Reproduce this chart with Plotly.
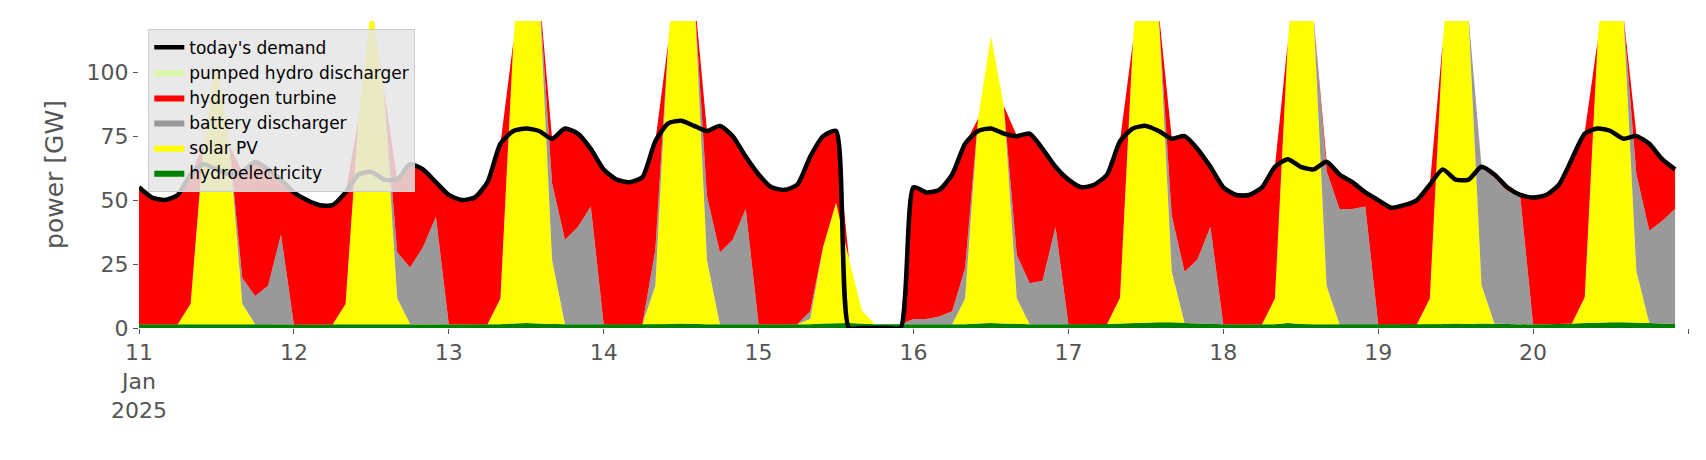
"""Dispatch stack for 11-20 Jan 2025 against today's demand."""

import pandas as pd
import plotly.graph_objects as go

# 2-hourly samples, 12 per day, 11 Jan 00:00 .. 20 Jan 22:00
times = pd.date_range("2025-01-11 00:00", periods=120, freq="2h")

demand = [
    55, 51, 50, 52, 60, 64, 62, 60, 61, 65, 62, 58,
    53, 50, 48, 48, 53, 60, 61, 58, 58, 64, 62, 57,
    52, 50, 51, 57, 72, 77, 78, 77, 74, 78, 76, 70,
    62, 58, 57, 59, 73, 80, 81, 79, 77, 79, 75, 67,
    60, 55, 54, 56, 67, 75, 77, 0, 0, 0, 0, 0,
    55, 53, 54, 60, 72, 77, 78, 76, 75, 76, 70, 63,
    58, 55, 56, 60, 73, 78, 79, 77, 74, 75, 70, 63,
    55, 52, 52, 55, 63, 66, 63, 62, 65, 60, 57, 53,
    50, 47, 48, 50, 56, 62, 58, 58, 63, 60, 55, 52,
    51, 52, 56, 66, 76, 78, 77, 74, 75, 72, 66, 62,
]

hydro = [
    1.5, 1.5, 1.5, 1.5, 1.5, 1.5, 1.5, 1.5, 1.5, 1.5, 1.5, 1.5,
    1.4, 1.4, 1.4, 1.4, 1.4, 1.4, 1.5, 1.5, 1.6, 1.6, 1.6, 1.5,
    1.5, 1.5, 1.5, 1.5, 1.5, 1.8, 2.0, 1.8, 1.6, 1.5, 1.5, 1.5,
    1.5, 1.5, 1.5, 1.5, 1.5, 1.6, 1.8, 1.6, 1.5, 1.5, 1.5, 1.5,
    1.5, 1.5, 1.5, 1.5, 1.5, 1.8, 2.0, 2.0, 1.8, 1.5, 1.5, 1.5,
    1.5, 1.5, 1.5, 1.5, 1.5, 1.8, 2.0, 1.8, 1.6, 1.5, 1.5, 1.5,
    1.5, 1.5, 1.5, 1.6, 1.8, 2.0, 2.2, 2.2, 2.2, 2.0, 1.8, 1.6,
    1.5, 1.5, 1.5, 1.5, 1.5, 2.0, 1.6, 1.5, 1.5, 1.5, 1.5, 1.5,
    1.5, 1.5, 1.5, 1.5, 1.5, 1.6, 1.8, 1.6, 1.8, 1.8, 1.6, 1.5,
    1.5, 1.5, 1.6, 1.8, 2.0, 2.2, 2.2, 2.2, 2.2, 2.0, 1.8, 1.6,
]

solar = [
    0, 0, 0, 0, 8, 70, 103, 70, 8, 0, 0, 0,
    0, 0, 0, 0, 8, 80, 125, 90, 10, 0, 0, 0,
    0, 0, 0, 0, 10, 110, 170, 130, 25, 0, 0, 0,
    0, 0, 0, 0, 15, 110, 170, 130, 25, 0, 0, 0,
    0, 0, 0, 0, 2, 30, 47, 25, 5, 0, 0, 0,
    0, 0, 0, 0, 10, 80, 112, 85, 10, 0, 0, 0,
    0, 0, 0, 0, 10, 110, 170, 120, 20, 0, 0, 0,
    0, 0, 0, 0, 10, 110, 170, 120, 15, 0, 0, 0,
    0, 0, 0, 0, 10, 110, 170, 120, 15, 0, 0, 0,
    0, 0, 0, 0, 10, 110, 170, 120, 20, 0, 0, 0,
]

battery = [
    0, 0, 0, 0, 0, 0, 0, 0, 10, 11, 15, 35,
    0, 0, 0, 0, 0, 0, 0, 0, 18, 22, 30, 42,
    0, 0, 0, 0, 0, 0, 0, 0, 30, 33, 38, 46,
    0, 0, 0, 0, 14, 0, 0, 0, 25, 28, 33, 45,
    0, 0, 0, 0, 3, 0, 0, 0, 0, 0, 0, 0,
    2, 2, 3, 5, 12, 0, 0, 0, 17, 16, 17, 38,
    0, 0, 0, 0, 0, 0, 0, 0, 22, 20, 25, 38,
    0, 0, 0, 0, 0, 0, 0, 0, 45, 45, 45, 46,
    0, 0, 0, 0, 0, 0, 0, 0, 46, 57, 52, 50,
    0, 0, 0, 0, 0, 0, 0, 0, 38, 36, 40, 45,
]

hydrogen = [
    53.5, 49.5, 48.5, 50.5, 50.5, 0, 0, 0, 41.5, 52.5, 45.5, 21.5,
    51.5, 48.5, 46.5, 46.5, 43.5, 0, 0, 0, 28.5, 40.5, 30.5, 13.5,
    50.5, 48.5, 49.5, 55.5, 60.5, 0, 0, 0, 17.5, 43.5, 36.5, 22.5,
    60.5, 56.5, 55.5, 57.5, 42.5, 0, 0, 0, 25.5, 49.5, 40.5, 20.5,
    58.5, 53.5, 52.5, 54.5, 60.5, 43.5, 28.5, 0, 0, 0, 0, 0,
    51.5, 49.5, 49.5, 53.5, 48.5, 0, 0, 0, 46.5, 58.5, 51.5, 23.5,
    56.5, 53.5, 54.5, 58.5, 61.5, 0, 0, 0, 30.5, 53.5, 43.5, 23.5,
    53.5, 50.5, 50.5, 53.5, 51.5, 0, 0, 0, 3.5, 13.5, 10.5, 5.5,
    48.5, 45.5, 46.5, 48.5, 44.5, 0, 0, 0, 0.5, 1.5, 1.5, 0.5,
    49.5, 50.5, 54.5, 64.5, 64.5, 0, 0, 0, 15.5, 34.5, 24.5, 15.5,
]

pumped_hydro = [0] * 120

tick_dates = pd.date_range("2025-01-11", periods=11, freq="D")
tick_labels = ["11<br>Jan<br>2025", "12", "13", "14", "15", "16", "17", "18", "19", "20", ""]

fig = go.Figure()

# stacked areas, bottom first
stack = [
    ("hydroelectricity", hydro, "green"),
    ("solar PV", solar, "yellow"),
    ("battery discharger", battery, "#999999"),
    ("hydrogen turbine", hydrogen, "red"),
    ("pumped hydro discharger", pumped_hydro, "#d9f7a6"),
]
for name, values, colour in stack:
    fig.add_trace(
        go.Scatter(
            x=times,
            y=values,
            name=name,
            stackgroup="supply",
            mode="lines",
            line=dict(width=0, color=colour),
            fillcolor=colour,
        )
    )

fig.add_trace(
    go.Scatter(
        x=times,
        y=demand,
        name="today's demand",
        mode="lines",
        line=dict(color="black", width=4.5, shape="spline", smoothing=0.6),
    )
)

fig.update_layout(
    width=1706,
    height=460,
    margin=dict(l=131, r=26, t=13, b=140),
    plot_bgcolor="white",
    paper_bgcolor="white",
    font=dict(family="DejaVu Sans", color="#555555", size=22),
    showlegend=True,
    legend=dict(
        x=0.006,
        y=0.975,
        xanchor="left",
        yanchor="top",
        traceorder="reversed",
        bgcolor="rgba(229,229,229,0.85)",
        bordercolor="#cccccc",
        borderwidth=1,
        font=dict(size=17, color="black"),
        tracegroupgap=0,
    ),
    xaxis=dict(
        range=[times[0], pd.Timestamp("2025-01-21")],
        tickvals=tick_dates,
        ticktext=tick_labels,
        ticks="outside",
        ticklen=5,
        tickcolor="#555555",
        showgrid=False,
        zeroline=False,
        showline=False,
    ),
    yaxis=dict(
        title=dict(text="power [GW]", font=dict(size=25)),
        range=[0, 120],
        tickvals=[0, 25, 50, 75, 100],
        ticks="outside",
        ticklen=5,
        tickcolor="#555555",
        showgrid=False,
        zeroline=False,
        showline=False,
    ),
)

fig.write_html("out.html")
